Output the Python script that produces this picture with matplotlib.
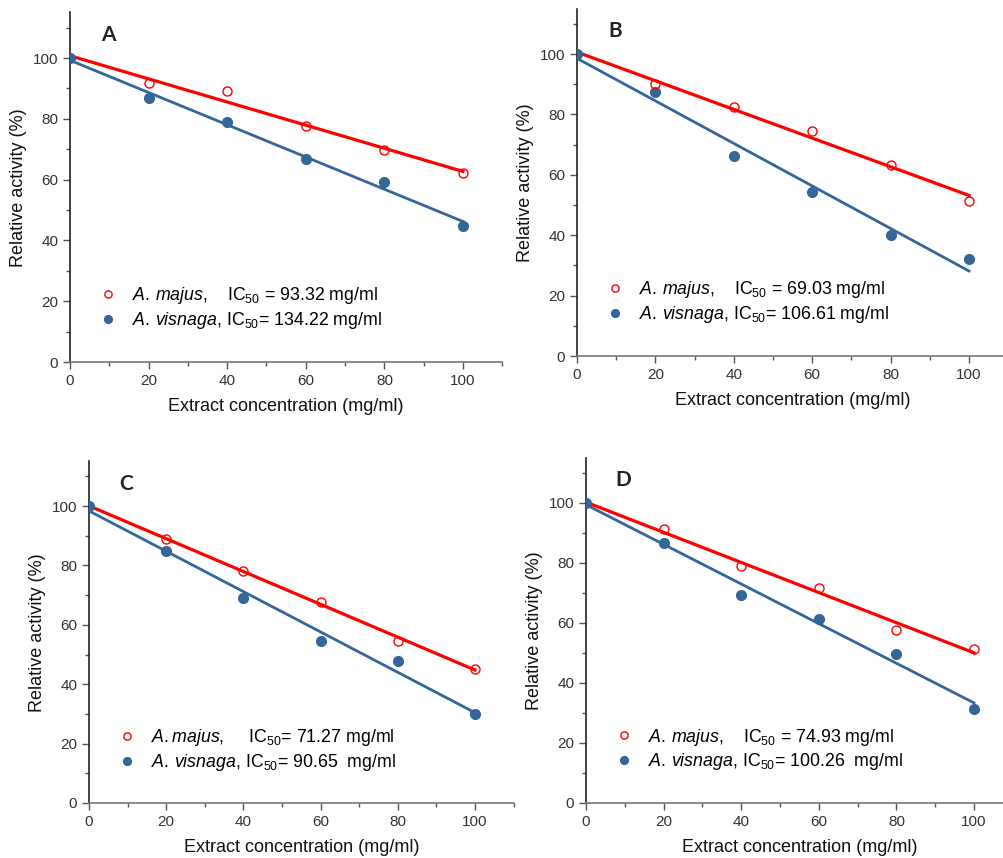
import numpy as np
import matplotlib
matplotlib.use("Agg")
import matplotlib.pyplot as plt

plt.rcParams['font.family'] = ['Liberation Sans', 'DejaVu Sans']
plt.rcParams['mathtext.fontset'] = 'custom'
plt.rcParams['mathtext.rm'] = 'Liberation Sans'
plt.rcParams['mathtext.it'] = 'Liberation Sans:italic'

conc = [0, 20, 40, 60, 80, 100]

majus_a = [100, 91.8, 89.0, 77.6, 69.6, 62.3]
visnaga_a = [100, 86.8, 78.8, 66.9, 59.2, 44.7]
majus_b = [100, 90.0, 82.5, 74.5, 63.1, 51.3]
visnaga_b = [100, 87.3, 66.3, 54.2, 40.2, 32.1]
majus_c = [100, 88.8, 78.1, 67.8, 54.6, 45.2]
visnaga_c = [100, 84.8, 69.1, 54.6, 47.8, 30.0]
majus_d = [100, 91.2, 79.0, 71.8, 57.8, 51.2]
visnaga_d = [100, 86.8, 69.3, 61.2, 49.7, 31.4]

panel_letters = ['A', 'B', 'C', 'D']
majus_labels = [r'$\it{A.\,majus}$,    IC$_{50}$ = 93.32 mg/ml',
                r'$\it{A.\,majus}$,    IC$_{50}$ = 69.03 mg/ml',
                r'$\it{A.majus}$,     IC$_{50}$= 71.27 mg/ml',
                r'$\it{A.\,majus}$,    IC$_{50}$ = 74.93 mg/ml']
visnaga_labels = [r'$\it{A.\,visnaga}$, IC$_{50}$= 134.22 mg/ml',
                  r'$\it{A.\,visnaga}$, IC$_{50}$= 106.61 mg/ml',
                  r'$\it{A.\,visnaga}$, IC$_{50}$= 90.65  mg/ml',
                  r'$\it{A.\,visnaga}$, IC$_{50}$= 100.26  mg/ml']

RED = '#ff0000'
BLUE = '#336699'

W, H = 1004, 858
# pixel geometry of each panel: x of 0, x of 100, y of 0, y of 100
geom = [(70, 463, 362, 58), (577, 969, 356, 54),
        (89, 475, 803, 506), (586, 974, 803, 503)]

fig = plt.figure(figsize=(W / 100, H / 100), dpi=100)

data = [(majus_a, visnaga_a), (majus_b, visnaga_b),
        (majus_c, visnaga_c), (majus_d, visnaga_d)]

for i, (x0, x100, y0, y100) in enumerate(geom):
    sx = (x100 - x0) / 100.0
    sy = (y0 - y100) / 100.0
    ax = fig.add_axes([x0 / W, (H - y0) / H, 110 * sx / W, 115 * sy / H])
    maj, vis = data[i]

    # linear fits drawn over 0-100
    xs = np.array(conc)
    xl = np.array([0, 100])
    pm = np.polyfit(xs, maj, 1)
    pv = np.polyfit(xs, vis, 1)
    ax.plot(xl, np.polyval(pv, xl), color=BLUE, lw=2.0, zorder=2)
    ax.plot(xl, np.polyval(pm, xl), color=RED, lw=2.3, zorder=3)

    ax.plot(conc, vis, 'o', color=BLUE, ms=7, ls='none', zorder=4,
            label=visnaga_labels[i])
    ax.plot(conc[1:], maj[1:], 'o', mfc='none', mec=RED, mew=1.0, ms=6.5,
            ls='none', zorder=5, label=majus_labels[i])

    ax.set_xlim(0, 110)
    ax.set_ylim(0, 115)
    ax.set_xticks([0, 20, 40, 60, 80, 100])
    ax.set_xticks(np.arange(10, 111, 20), minor=True)
    ax.set_yticks([0, 20, 40, 60, 80, 100])
    ax.set_yticks(np.arange(10, 111, 20), minor=True)
    ax.tick_params(which='major', direction='out', length=5, width=1,
                   labelsize=11, colors='#555555', labelcolor='#333333')
    ax.tick_params(which='minor', direction='out', length=3, width=1,
                   colors='#555555')
    for s in ['top', 'right']:
        ax.spines[s].set_visible(False)
    ax.spines['left'].set_color('#222222')
    ax.spines['bottom'].set_color('#777777')
    ax.spines['left'].set_linewidth(1.2)
    ax.spines['bottom'].set_linewidth(1.2)

    ax.set_xlabel('Extract concentration (mg/ml)', fontsize=13,
                  color='#111111', labelpad=7)
    ax.set_ylabel('Relative activity (%)', fontsize=13,
                  color='#111111', labelpad=4)

    ax.text(9.7, 107.5, panel_letters[i], fontsize=15, fontweight='bold',
            family='Lato', color='#222222', ha='center', va='center')

    h, l = ax.get_legend_handles_labels()
    ax.legend(h[::-1], l[::-1], loc='center left',
              bbox_to_anchor=(0.02, 0.155), frameon=False,
              fontsize=12.8, handletextpad=0.6, labelspacing=0.22,
              markerscale=0.8, handlelength=1.5)

fig.savefig('out.png', dpi=100)
